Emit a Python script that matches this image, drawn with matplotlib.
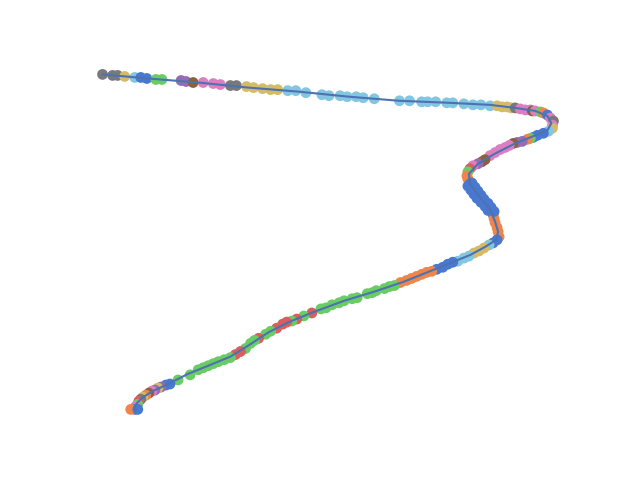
import matplotlib
matplotlib.use("Agg")
import matplotlib.pyplot as plt

# cluster colours (seaborn "muted" palette)
palette = {
    "b": "#4878D0", "o": "#EE854A", "g": "#6ACC64", "r": "#D65F5F",
    "p": "#956CB4", "n": "#8C613C", "k": "#DC7EC0", "a": "#797979",
    "y": "#D5BB67", "c": "#82C6E2",
}

# cells along the trajectory (y grows downward)
cell_x = [105, 115, 120, 127, 137, 143, 149, 158, 164, 183, 188, 195, 205, 215, 222,
          232, 238, 248, 255, 264, 272, 279, 289, 297, 307, 323, 330, 341, 348, 357,
          364, 375, 400, 410, 422, 428, 436, 447, 453, 464, 473, 481, 490,
          497, 502, 507, 511, 515, 520, 525, 530, 532, 535, 540, 543, 547, 550, 553,
          552, 552, 548, 543, 537, 533, 530, 527, 522, 517, 513, 509, 505, 500, 495,
          490, 485, 482, 478, 473, 470, 468, 467, 468, 470, 472, 475, 478, 481, 485,
          488, 491, 493, 494, 495, 497, 498, 499, 497, 493, 489, 484, 479, 474, 469,
          464, 458, 453, 448, 443, 437, 432, 427, 422, 417, 412, 407, 401, 395, 390,
          385, 377, 373, 368, 358, 353, 345, 340, 333, 327, 322, 313, 305, 298, 293,
          288, 284, 278, 272, 267, 260, 256, 252, 247, 242, 237, 232, 226, 220, 215,
          210, 205, 200, 192, 180, 172, 168, 163, 160, 157, 154, 151, 148, 145, 143,
          141, 140, 138, 137, 133, 140,
          472, 475, 478, 481, 484, 488, 491, 494, 468, 471, 474, 477, 481, 485, 488]
cell_y = [77, 78, 78, 79, 80, 80, 81, 82, 82, 83, 84, 85, 85, 86, 87,
          88, 88, 89, 90, 91, 92, 92, 93, 93, 95, 97, 98, 98, 99, 99,
          100, 101, 103, 103, 104, 104, 104, 105, 105, 106, 107, 107, 108,
          108, 109, 109, 110, 110, 111, 112, 112, 113, 113, 114, 115, 117, 120, 123,
          127, 130, 133, 135, 137, 139, 140, 141, 143, 144, 145, 147, 149, 151, 154,
          157, 161, 163, 165, 167, 170, 173, 177, 180, 185, 188, 192, 195, 199, 203,
          207, 211, 215, 219, 223, 228, 232, 237, 240, 243, 245, 248, 251, 253, 256,
          258, 261, 262, 264, 267, 269, 271, 272, 274, 276, 278, 280, 282, 285, 286,
          288, 290, 292, 293, 297, 298, 300, 302, 304, 307, 308, 312, 315, 318, 320,
          321, 323, 327, 330, 333, 337, 339, 342, 347, 350, 353, 356, 358, 360, 362,
          364, 366, 368, 373, 378, 382, 383, 385, 386, 388, 389, 391, 393, 395, 397,
          399, 402, 404, 407, 407, 407,
          184, 188, 192, 196, 200, 204, 208, 212, 187, 191, 195, 199, 203, 207, 211]
cell_cluster = list(
    "aaaycbbggppnkkkaayyyyyccccccccccccccccccccc"
    "yyyyakkknkgobkakycbbbgoppnkkkkk"
    "nnpkrgoobbbbbbbbbooooobbcyyyccc"
    "bbbbooooooogggggggggggggrgrgrrrggrggg"
    "rrgggggggggbbpypknoyarg"
    "kbob"
    "bbbbbbbbbbbbbbb"
)

# fitted trajectory curve
curve_x = [105, 150, 200, 250, 300, 350, 400, 450, 490, 515, 535, 547, 551, 547,
           535, 515, 495, 478, 469, 470, 480, 490, 495, 498, 496, 485, 470, 450,
           430, 405, 375, 345, 315, 290, 270, 250, 232, 210, 190, 170, 155, 145,
           139, 137, 138]
curve_y = [77, 81, 85, 90, 94, 99, 103, 105, 107, 110, 113, 118, 125, 132,
           137, 145, 155, 165, 175, 185, 198, 210, 222, 232, 240, 247, 255, 263,
           271, 281, 291, 300, 311, 321, 331, 344, 355, 364, 372, 382, 389, 395,
           401, 405, 408]

fig, ax = plt.subplots(figsize=(6.4, 4.8), dpi=100)

colors = [palette[c] for c in cell_cluster]
ax.scatter(cell_x, cell_y, c=colors, s=60, linewidths=0, zorder=2)
ax.plot(curve_x, curve_y, color="#4C72B0", lw=1.5, zorder=3)

ax.invert_yaxis()
ax.axis("off")

fig.savefig("out.png", dpi=100)
